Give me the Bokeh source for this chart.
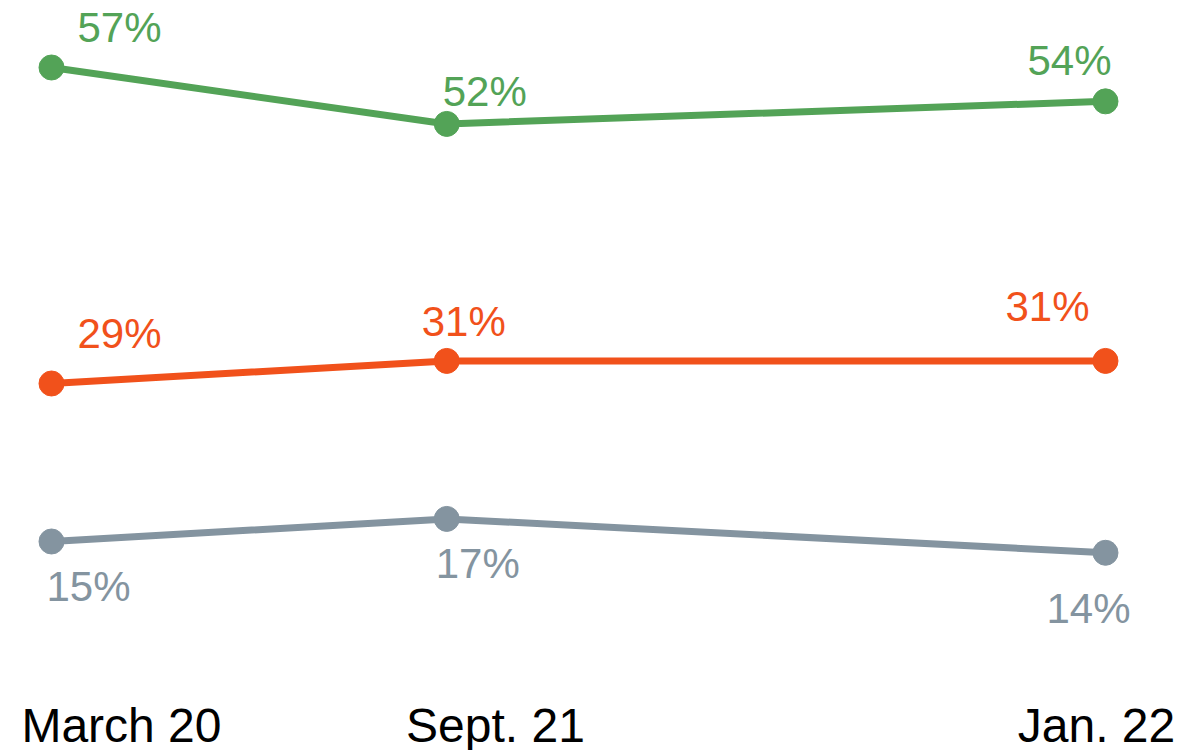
from bokeh.plotting import figure
from bokeh.models import Range1d, FixedTicker, ColumnDataSource
from bokeh.core.properties import value
from bokeh.embed import file_html
from bokeh.resources import INLINE

# ---- data ----
survey_labels = ["March 20", "Sept. 21", "Jan. 22"]
survey_index = [0, 3, 8]          # relative spacing of survey waves on the x axis
green_values = [57, 52, 54]
orange_values = [29, 31, 31]
gray_values = [15, 17, 14]

# ---- styles ----
GREEN = "#53a357"
ORANGE = "#f1511b"
GRAY = "#8494a0"
FONT = "Liberation Sans"

# label offsets in screen pixels (x right, y down), one per point
green_off = ([68, 38, -36], [-40, -32, -41])
orange_off = ([68, 17, -58], [-50, -39, -54])
gray_off = ([37, 31, -17], [45, 45, 56])
tick_label_pos = [0.531, 3.370, 7.932]

p = figure(frame_width=1188, frame_height=690, output_backend="svg",
           toolbar_location=None, min_border=0,
           x_range=Range1d(-0.3871, 8.630), y_range=Range1d(1.797, 62.937))
p.outline_line_color = None
p.grid.visible = False
p.yaxis.visible = False
p.background_fill_color = "white"
p.border_fill_color = "white"

xa = p.xaxis[0]
xa.ticker = FixedTicker(ticks=tick_label_pos)
xa.major_label_overrides = {t: s for t, s in zip(tick_label_pos, survey_labels)}
xa.axis_line_color = None
xa.major_tick_line_color = None
xa.minor_tick_line_color = None
xa.major_tick_out = 0
xa.major_tick_in = 0
xa.major_label_standoff = 8
xa.major_label_text_font = FONT
xa.major_label_text_font_size = "48px"
xa.major_label_text_line_height = 0.75
xa.major_label_text_color = "black"

for vals, color, (dx, dy) in [(green_values, GREEN, green_off),
                              (orange_values, ORANGE, orange_off),
                              (gray_values, GRAY, gray_off)]:
    src = ColumnDataSource(dict(x=survey_index, y=vals,
                                lab=[f"{v}%" for v in vals], dx=dx, dy=dy))
    p.line("x", "y", source=src, line_color=color, line_width=7)
    p.scatter("x", "y", source=src, size=25, fill_color=color, line_color=color)
    p.text("x", "y", text="lab", source=src, x_offset="dx", y_offset="dy",
           text_align="center", text_baseline="alphabetic",
           text_font=value(FONT), text_font_size="42px", text_color=color)

open("out.html", "w").write(file_html(p, INLINE))
